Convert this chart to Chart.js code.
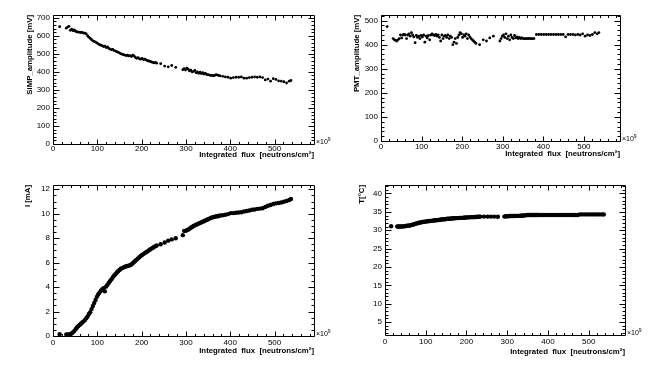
<!DOCTYPE html>
<html>
<head>
<meta charset="utf-8">
<script src="https://cdn.jsdelivr.net/npm/chart.js@4.4.0/dist/chart.umd.min.js"></script>
<style>
  html, body { margin: 0; padding: 0; background: #fff; }
  #wrap { position: relative; width: 664px; height: 374px; }
  #wrap canvas { position: absolute; left: 0; top: 0; }
</style>
</head>
<body>
<div id="wrap">
  <canvas id="simp" width="664" height="374"></canvas>
  <canvas id="pmt" width="664" height="374"></canvas>
  <canvas id="curr" width="664" height="374"></canvas>
  <canvas id="temp" width="664" height="374"></canvas>
</div>
<script>
// integrated flux [x10^9 neutrons/cm^2], same for all four plots
const flux = [
  15, 30, 33, 36, 39, 42, 45, 48, 51, 54,
  57, 60, 63, 66, 69, 72, 75, 78, 81, 84,
  87, 90, 93, 96, 99, 102, 105, 108, 111, 114,
  117, 120, 123, 126, 129, 132, 135, 138, 141, 144,
  147, 150, 153, 156, 159, 162, 165, 168, 171, 174,
  177, 180, 183, 186, 189, 192, 195, 198, 201, 204,
  207, 210, 213, 216, 219, 222, 225, 228, 231, 234,
  243, 252, 260, 268, 277, 293, 296, 299, 302, 305,
  308, 311, 314, 317, 320, 323, 326, 329, 332, 335,
  338, 341, 344, 347, 350, 353, 356, 359, 362, 365,
  368, 371, 374, 377, 383, 389, 395, 401, 407, 413,
  419, 425, 431, 437, 443, 449, 455, 461, 467, 473,
  479, 485, 491, 497, 503, 509, 515, 521, 527, 533,
  537
];

// SiMP amplitude [mV]
const simpAmp = [
  650, 642, 648, 652, 630, 636, 628, 632, 625, 622,
  620, 620, 618, 618, 615, 614, 610, 600, 592, 585,
  578, 572, 568, 565, 560, 555, 550, 548, 545, 540,
  542, 535, 538, 530, 526, 522, 525, 518, 515, 512,
  508, 505, 500, 498, 495, 493, 490, 492, 488, 490,
  485, 492, 488, 480, 475, 478, 472, 470, 474, 468,
  470, 466, 462, 460, 458, 455, 452, 450, 452, 448,
  445, 432, 428, 435, 425, 412, 418, 410, 420, 415,
  405, 410, 400, 402, 408, 395, 400, 392, 398, 390,
  395, 388, 392, 385, 385, 382, 380, 380, 378, 380,
  385, 382, 380, 378, 375, 372, 370, 365, 368, 370,
  370, 372, 365, 365, 368, 370, 372, 370, 372, 368,
  355, 360, 348, 362, 358, 350, 348, 345, 338, 348,
  352
];

// PMT amplitude [mV]
const pmtAmp = [
  475, 425, 420, 418, 415, 420, 425, 440, 428, 440,
  442, 440, 425, 440, 445, 435, 450, 440, 432, 408,
  438, 430, 435, 425, 438, 432, 440, 410, 435, 428,
  438, 420, 440, 445, 440, 438, 442, 435, 440, 430,
  415, 440, 425, 435, 438, 430, 440, 425, 435, 430,
  400, 410, 425, 405, 430, 440, 450, 445, 430, 440,
  435, 445, 425, 440, 432, 425, 420, 415, 410, 405,
  400, 420, 415, 428, 435, 415, 425, 435, 440, 430,
  445, 425, 435, 420, 440, 430, 425, 438, 428, 432,
  425, 430, 425, 428, 425, 425, 425, 425, 425, 425,
  425, 425, 425, 425, 442, 442, 442, 442, 442, 442,
  442, 442, 442, 442, 442, 442, 432, 442, 442, 442,
  440, 442, 440, 445, 435, 440, 438, 442, 450, 445,
  450
];

// current I [mA]
const current = [
  0.15, 0.12, 0.1, 0.12, 0.15, 0.2, 0.3, 0.4, 0.55, 0.7,
  0.8, 0.9, 1.0, 1.1, 1.2, 1.3, 1.45, 1.6, 1.8, 1.95,
  2.2, 2.45, 2.7, 2.95, 3.2, 3.4, 3.55, 3.7, 3.8, 3.9,
  3.65, 4.05, 4.2, 4.35, 4.5, 4.65, 4.8, 4.95, 5.05, 5.2,
  5.3, 5.4, 5.5, 5.55, 5.6, 5.65, 5.7, 5.72, 5.75, 5.8,
  5.85, 5.95, 6.05, 6.15, 6.25, 6.35, 6.45, 6.55, 6.62, 6.7,
  6.78, 6.85, 6.92, 7.0, 7.08, 7.15, 7.2, 7.28, 7.35, 7.4,
  7.5, 7.65, 7.8, 7.9, 8.0, 8.25, 8.6, 8.6, 8.65, 8.7,
  8.78, 8.85, 8.92, 9.0, 9.05, 9.1, 9.15, 9.2, 9.25, 9.3,
  9.35, 9.4, 9.45, 9.5, 9.55, 9.6, 9.65, 9.7, 9.72, 9.75,
  9.78, 9.8, 9.82, 9.85, 9.88, 9.92, 9.97, 10.05, 10.05, 10.08,
  10.1, 10.12, 10.18, 10.22, 10.27, 10.32, 10.35, 10.4, 10.42, 10.45,
  10.55, 10.65, 10.72, 10.8, 10.85, 10.88, 10.92, 10.98, 11.05, 11.12,
  11.2
];

// temperature T [°C]
const temperature = [
  31.1, 31.0, 31.0, 31.0, 31.0, 31.0, 31.05, 31.1, 31.15, 31.2,
  31.25, 31.3, 31.35, 31.45, 31.55, 31.65, 31.75, 31.85, 31.95, 32.05,
  32.1, 32.2, 32.25, 32.3, 32.35, 32.4, 32.45, 32.5, 32.5, 32.55,
  32.6, 32.65, 32.7, 32.7, 32.75, 32.8, 32.85, 32.9, 32.95, 33.0,
  33.0, 33.05, 33.1, 33.1, 33.15, 33.2, 33.2, 33.25, 33.25, 33.3,
  33.3, 33.3, 33.35, 33.35, 33.35, 33.4, 33.4, 33.45, 33.5, 33.5,
  33.5, 33.55, 33.55, 33.55, 33.6, 33.6, 33.6, 33.65, 33.65, 33.7,
  33.7, 33.7, 33.7, 33.7, 33.65, 33.7, 33.8, 33.8, 33.8, 33.85,
  33.85, 33.85, 33.85, 33.85, 33.9, 33.9, 33.9, 33.9, 33.95, 33.95,
  34.0, 34.0, 34.05, 34.1, 34.15, 34.15, 34.15, 34.15, 34.15, 34.15,
  34.15, 34.15, 34.15, 34.15, 34.15, 34.15, 34.15, 34.15, 34.15, 34.15,
  34.15, 34.15, 34.15, 34.15, 34.15, 34.15, 34.15, 34.15, 34.15, 34.15,
  34.3, 34.3, 34.3, 34.3, 34.3, 34.3, 34.3, 34.3, 34.3, 34.3,
  34.3
];

// tick labels
const fluxTicks = [0, 100, 200, 300, 400, 500];
const simpTicks = [0, 100, 200, 300, 400, 500, 600, 700];
const pmtTicks = [0, 100, 200, 300, 400, 500];
const currentTicks = [0, 2, 4, 6, 8, 10, 12];
const tempTicks = [5, 10, 15, 20, 25, 30, 35, 40];

const xTitle = 'Integrated  flux  [neutrons/cm\u00B2]';
const FONT = '"Liberation Sans", Arial, Helvetica, sans-serif';

// draws the ROOT-like frame, inner ticks on all four sides, titles and x10^9
const rootFrame = {
    id: 'rootFrame',
    afterDatasetsDraw(chart, args, o) {
        const { ctx, chartArea: a, scales: { x, y } } = chart;
        const L = Math.round(a.left) + 0.5, R = Math.round(a.right) + 0.5;
        const T = Math.round(a.top) + 0.5, B = Math.round(a.bottom) + 0.5;
        ctx.save();
        ctx.strokeStyle = '#000';
        ctx.lineWidth = 1;
        ctx.beginPath();
        ctx.rect(L, T, R - L, B - T);

        const nx = Math.round(o.xMajor / o.xMinor);
        for (let i = Math.ceil(x.min / o.xMinor); i * o.xMinor <= x.max + 1e-9; i++) {
            const px = Math.round(x.getPixelForValue(i * o.xMinor)) + 0.5;
            const len = i % nx === 0 ? 5 : 2.5;
            ctx.moveTo(px, B); ctx.lineTo(px, B - len);
            ctx.moveTo(px, T); ctx.lineTo(px, T + len);
        }
        const ny = Math.round(o.yMajor / o.yMinor);
        for (let i = Math.ceil(y.min / o.yMinor - 1e-9); i * o.yMinor <= y.max + 1e-9; i++) {
            const py = Math.round(y.getPixelForValue(i * o.yMinor)) + 0.5;
            const len = i % ny === 0 ? 6 : 3;
            ctx.moveTo(L, py); ctx.lineTo(L + len, py);
            ctx.moveTo(R, py); ctx.lineTo(R - len, py);
        }
        ctx.stroke();

        ctx.fillStyle = '#000';
        // x title
        ctx.font = 'bold 7.8px ' + FONT;
        ctx.textAlign = 'right';
        ctx.textBaseline = 'middle';
        ctx.fillText(xTitle, a.right, a.bottom + o.xTitleGap);

        // y title, rotated, aligned to the frame top
        ctx.save();
        ctx.translate(o.yTitleX, a.top);
        ctx.rotate(-Math.PI / 2);
        ctx.textAlign = 'right';
        ctx.fillText(o.yTitle, 0, 0);
        ctx.restore();

        // x10^9 at the end of the x axis
        ctx.font = '7px ' + FONT;
        ctx.textAlign = 'left';
        ctx.textBaseline = 'alphabetic';
        ctx.fillText('\u00D710', a.right + 2, a.bottom);
        const w = ctx.measureText('\u00D710').width;
        ctx.font = '5px ' + FONT;
        ctx.fillText('9', a.right + 2 + w, a.bottom - 3.5);
        ctx.restore();
    }
};

function makePlot(id, values, box, ymin, ymax, yTicks, radius, extra) {
    const points = flux.map((f, i) => ({ x: f, y: values[i] }));
    new Chart(document.getElementById(id), {
        type: 'scatter',
        data: {
            datasets: [{
                data: points,
                backgroundColor: '#000',
                borderWidth: 0,
                pointRadius: radius,
                pointHoverRadius: radius,
            }],
        },
        options: {
            responsive: false,
            animation: false,
            events: [],
            clip: false,
            layout: {
                padding: { left: 0, top: box[1], right: 664 - box[2], bottom: 0 },
            },
            scales: {
                x: {
                    type: 'linear',
                    min: 0,
                    max: 589,
                    afterBuildTicks: (s) => { s.ticks = fluxTicks.map(v => ({ value: v })); },
                    afterFit: (s) => { s.height = 374 - box[3]; },
                    grid: { display: false, drawTicks: false },
                    border: { display: false },
                    ticks: {
                        autoSkip: false, maxRotation: 0, padding: extra.xPad,
                        color: '#000', font: { family: FONT, size: 8 },
                    },
                },
                y: {
                    type: 'linear',
                    min: ymin,
                    max: ymax,
                    afterBuildTicks: (s) => { s.ticks = yTicks.map(v => ({ value: v })); },
                    afterFit: (s) => { s.width = box[0]; },
                    grid: { display: false, drawTicks: false },
                    border: { display: false },
                    ticks: {
                        autoSkip: false, padding: 3,
                        color: '#000', font: { family: FONT, size: 8 },
                    },
                },
            },
            plugins: {
                legend: { display: false },
                tooltip: { enabled: false },
                rootFrame: extra,
            },
        },
        plugins: [rootFrame],
    });
}

makePlot('simp', simpAmp, [53, 15, 314, 144], 0, 715, simpTicks, 1.4, {
    xMajor: 100, xMinor: 20, yMajor: 100, yMinor: 20,
    xPad: 0, xTitleGap: 11, yTitle: 'SiMP_amplitude [mV]', yTitleX: 30,
});
makePlot('pmt', pmtAmp, [381, 15, 620, 141], 0, 523, pmtTicks, 1.4, {
    xMajor: 100, xMinor: 20, yMajor: 100, yMinor: 20,
    xPad: 1, xTitleGap: 13, yTitle: 'PMT_amplitude [mV]', yTitleX: 357,
});
makePlot('curr', current, [53, 185, 314, 336], 0, 12.35, currentTicks, 2.2, {
    xMajor: 100, xMinor: 20, yMajor: 2, yMinor: 0.5,
    xPad: 2, xTitleGap: 15, yTitle: 'I [mA]', yTitleX: 28,
});
makePlot('temp', temperature, [385, 185, 625, 335], 1.5, 42.3, tempTicks, 2.2, {
    xMajor: 100, xMinor: 20, yMajor: 5, yMinor: 1,
    xPad: 2, xTitleGap: 17, yTitle: 'T[\u00B0C]', yTitleX: 362,
});
</script>
</body>
</html>
